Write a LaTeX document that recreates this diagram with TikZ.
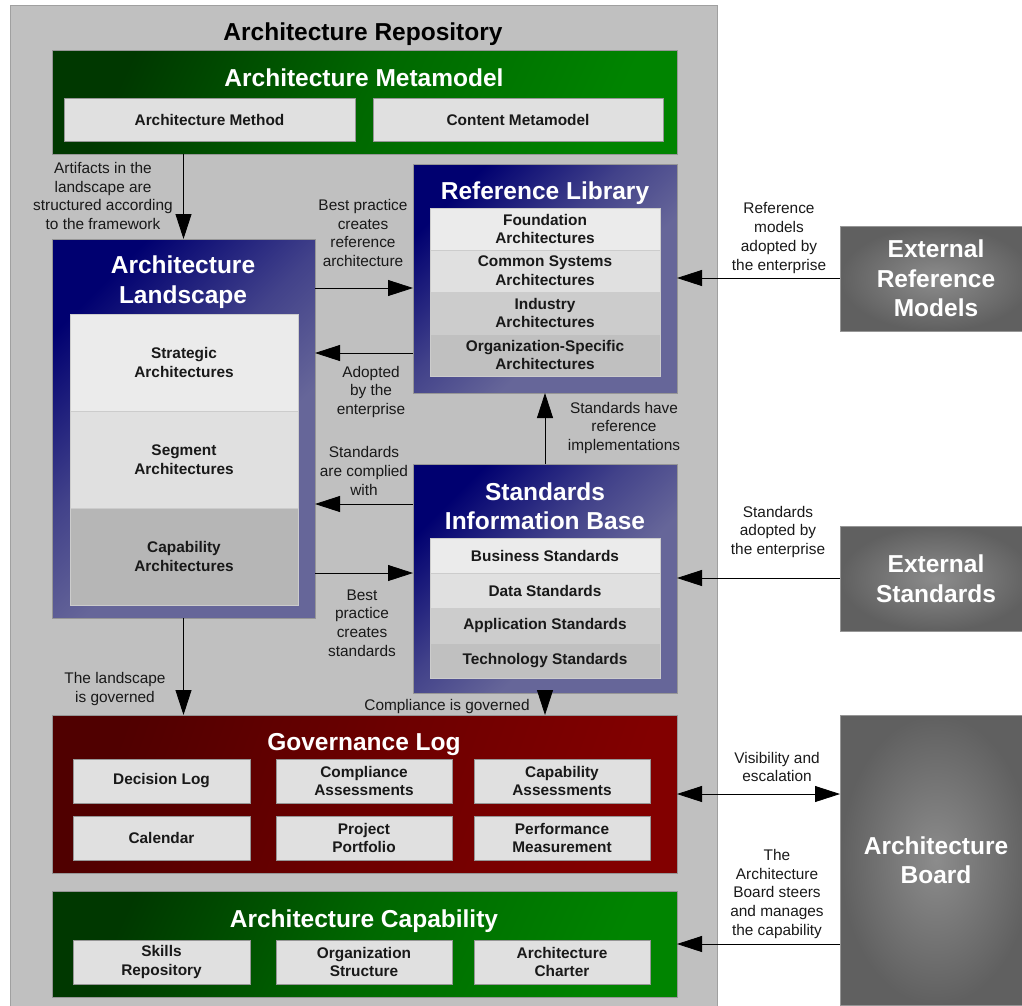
\documentclass[tikz,border=0pt]{standalone}
\usepackage{fontspec}
\setmainfont{Liberation Sans}
\usepackage{tikz}
\usetikzlibrary{arrows.meta}
\usepackage{xcolor}

\definecolor{repofill}{RGB}{192,192,192}
\definecolor{repoedge}{RGB}{160,160,160}
\definecolor{celledge}{RGB}{150,150,150}
\definecolor{cellA}{RGB}{235,235,235}
\definecolor{cellB}{RGB}{224,224,224}
\definecolor{cellC}{RGB}{204,204,204}
\definecolor{cellD}{RGB}{192,192,192}
\definecolor{navytop}{RGB}{0,0,112}
\definecolor{bluemid}{RGB}{66,66,138}
\definecolor{blueend}{RGB}{102,102,153}
\definecolor{greentop}{RGB}{0,56,0}
\definecolor{greenmid}{RGB}{0,104,0}
\definecolor{greenend}{RGB}{0,132,0}
\definecolor{redtop}{RGB}{80,0,0}
\definecolor{redmid}{RGB}{108,0,0}
\definecolor{redend}{RGB}{130,0,0}
\definecolor{extin}{RGB}{140,140,140}
\definecolor{extout}{RGB}{96,96,96}
\definecolor{notetext}{RGB}{25,25,25}

\pgfdeclarehorizontalshading{blueshade}{100bp}{color(0bp)=(navytop); color(25bp)=(navytop); color(45bp)=(bluemid); color(60bp)=(blueend); color(100bp)=(blueend)}
\pgfdeclarehorizontalshading{greenshade}{100bp}{color(0bp)=(greentop); color(25bp)=(greentop); color(50bp)=(greenmid); color(75bp)=(greenend); color(100bp)=(greenend)}
\pgfdeclarehorizontalshading{redshade}{100bp}{color(0bp)=(redtop); color(25bp)=(redtop); color(50bp)=(redmid); color(75bp)=(redend); color(100bp)=(redend)}

\newcommand\titlefont{\fontsize{24.5}{29.5}\selectfont\bfseries}
\newcommand\cellfont{\fontsize{15.4}{18.8}\selectfont\bfseries}
\newcommand\notefont{\fontsize{15.4}{18.8}\selectfont}

\tikzset{
  box/.style={inner sep=0, outer sep=0, line width=0.8pt, anchor=north west},
  bluebox/.style={box, draw=celledge, shading=blueshade, shading angle=-45},
  greenbox/.style={box, draw=celledge, shading=greenshade, shading angle=-25},
  redbox/.style={box, draw=celledge, shading=redshade, shading angle=-20},
  extbox/.style={box, draw=celledge, inner color=extin, outer color=extout,
    text=white, font=\titlefont, align=center},
  cell/.style={box, draw=celledge, fill=#1, font=\cellfont, align=center, text=black!90},
  boxtitle/.style={text=white, font=\titlefont, align=center, inner sep=0},
  note/.style={text=notetext, font=\notefont, align=center, inner sep=0},
  arr/.style={-{Triangle[length=25pt,width=16pt]}, line width=0.8pt},
  biarr/.style={{Triangle[length=25pt,width=16pt]}-{Triangle[length=25pt,width=16pt]}, line width=0.8pt}
}

\begin{document}
\begin{tikzpicture}[x=1pt, y=-1pt]
\useasboundingbox (0,0) rectangle (1022,1005);

% repository
\node[box, draw=repoedge, fill=repofill, minimum width=707pt, minimum height=1010pt] (repo) at (10,5) {};
\node[boxtitle, text=black] (repoT) at (363,34) {Architecture Repository};

% metamodel
\node[greenbox, minimum width=625pt, minimum height=104pt] (meta) at (52,50) {};
\node[boxtitle] (metaT) at (364,78) {Architecture Metamodel};
\node[cell=cellB, minimum width=291pt, minimum height=43pt] (method) at (64,98) {Architecture Method};
\node[cell=cellB, minimum width=290pt, minimum height=43pt] (content) at (373,98) {Content Metamodel};

% landscape
\node[bluebox, minimum width=263pt, minimum height=379pt] (land) at (52,239) {};
\node[boxtitle] (landT) at (183,282) {Architecture\\Landscape};
\node[cell=cellA, draw=cellC, minimum width=228pt, minimum height=97pt] (strat) at (70,314) {Strategic\\Architectures};
\node[cell=cellB, draw=cellC, minimum width=228pt, minimum height=97pt] (segm) at (70,411) {Segment\\Architectures};
\node[cell=cellD!95!black, draw=cellC, minimum width=228pt, minimum height=97pt] (capa) at (70,508) {Capability\\Architectures};

% reference library
\node[bluebox, minimum width=264pt, minimum height=229pt] (ref) at (413,164) {};
\node[boxtitle] (refT) at (545,193) {Reference Library};
\node[cell=cellA, draw=cellC, minimum width=230pt, minimum height=42pt] (found) at (430,208) {Foundation\\Architectures};
\node[cell=cellB, draw=cellC, minimum width=230pt, minimum height=42pt] (common) at (430,250) {Common Systems\\Architectures};
\node[cell=cellC, draw=cellC, minimum width=230pt, minimum height=42pt] (indus) at (430,292) {Industry\\Architectures};
\node[cell=cellD, draw=cellC, minimum width=230pt, minimum height=42pt] (orgsp) at (430,334) {Organization-Specific\\Architectures};

% standards information base
\node[bluebox, minimum width=264pt, minimum height=229pt] (std) at (413,464) {};
\node[boxtitle] (stdT) at (545,506) {Standards\\Information Base};
\node[cell=cellA, draw=cellC, minimum width=230pt, minimum height=35pt] (busi) at (430,538) {Business Standards};
\node[cell=cellB, draw=cellC, minimum width=230pt, minimum height=35pt] (data) at (430,573) {Data Standards};
\node[cell=cellC, draw=cellC, minimum width=230pt, minimum height=35pt] (appl) at (430,608) {Application Standards};
\node[cell=cellD, draw=cellC, minimum width=230pt, minimum height=35pt] (tech) at (430,643) {Technology Standards};

% governance log
\node[redbox, minimum width=625pt, minimum height=158pt] (gov) at (52,715) {};
\node[boxtitle] (govT) at (364,745) {Governance Log};
\node[cell=cellB, minimum width=177pt, minimum height=44pt] (declog) at (73,759) {Decision Log};
\node[cell=cellB, minimum width=176pt, minimum height=44pt] (compl) at (276,759) {Compliance\\Assessments};
\node[cell=cellB, minimum width=176pt, minimum height=44pt] (capass) at (474,759) {Capability\\Assessments};
\node[cell=cellB, minimum width=177pt, minimum height=44pt] (calen) at (73,816) {Calendar};
\node[cell=cellB, minimum width=176pt, minimum height=44pt] (portf) at (276,816) {Project\\Portfolio};
\node[cell=cellB, minimum width=176pt, minimum height=44pt] (perf) at (474,816) {Performance\\Measurement};

% architecture capability
\node[greenbox, minimum width=625pt, minimum height=106pt] (cap) at (52,891) {};
\node[boxtitle] (capT) at (364,921) {Architecture Capability};
\node[cell=cellB, minimum width=177pt, minimum height=44pt] (skills) at (73,940) {Skills\\Repository};
\node[cell=cellB, minimum width=176pt, minimum height=44pt] (orgst) at (276,940) {Organization\\Structure};
\node[cell=cellB, minimum width=176pt, minimum height=44pt] (chart) at (474,940) {Architecture\\Charter};

% outside the repository
\node[extbox, minimum width=192pt, minimum height=105pt] (extref) at (840,226) {External\\Reference\\Models};
\node[extbox, minimum width=192pt, minimum height=105pt] (extstd) at (840,526) {External\\Standards};
\node[extbox, minimum width=192pt, minimum height=290pt] (board) at (840,715) {Architecture\\Board};

% connectors
\draw[arr] (land.north |- meta.south) -- (land.north);
\node[note] (n1) at (103,196) {Artifacts in the\\landscape are\\structured according\\to the framework};

\draw[arr] (land.east |- 0,288) -- (ref.west |- 0,288);
\node[note] (n2) at (363,233) {Best practice\\creates\\reference\\architecture};

\draw[arr] (ref.west |- 0,353) -- (land.east |- 0,353);
\node[note] (n3) at (371,392) {Adopted\\by the\\enterprise};

\draw[arr] (std.west |- 0,504) -- (land.east |- 0,504);
\node[note] (n4) at (364,471) {Standards\\are complied\\with};

\draw[arr] (land.east |- 0,573) -- (std.west |- 0,573);
\node[note] (n5) at (362,623) {Best\\practice\\creates\\standards};

\draw[arr] (std.north) -- (ref.south);
\node[note] (n6) at (624,428) {Standards have\\reference\\implementations};

\draw[arr] (land.south) -- (land.south |- gov.north);
\node[note] (n7) at (115,689) {The landscape\\is governed};

\draw[arr] (std.south) -- (std.south |- gov.north);
\node[note] (n8) at (447,707) {Compliance is governed};

\draw[arr] (extref.west |- 0,278) -- (ref.east |- 0,278);
\node[note] (n9) at (779,238) {Reference\\models\\adopted by\\the enterprise};

\draw[arr] (extstd.west |- 0,578) -- (std.east |- 0,578);
\node[note] (n10) at (778,532) {Standards\\adopted by\\the enterprise};

\draw[biarr] (gov.east |- 0,794) -- (board.west |- 0,794);
\node[note] (n11) at (777,767) {Visibility and\\escalation};

\draw[arr] (board.west |- 0,944) -- (cap.east |- 0,944);
\node[note] (n12) at (777,894) {The\\Architecture\\Board steers\\and manages\\the capability};

\end{tikzpicture}
\end{document}
